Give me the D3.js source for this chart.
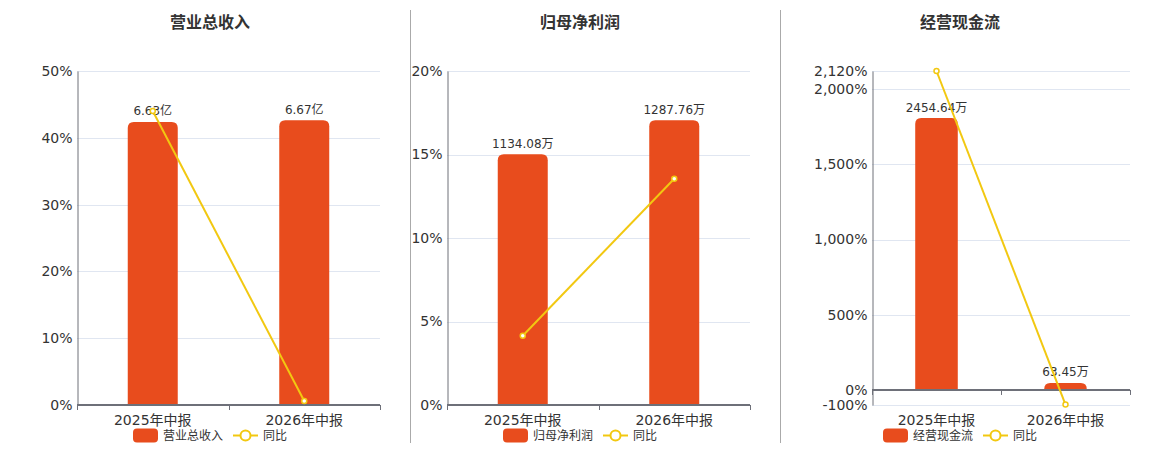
<!DOCTYPE html>
<html>
<head>
<meta charset="utf-8">
<script src="https://cdn.jsdelivr.net/npm/d3@7"></script>
<style>
    body { margin: 0; background: #fff; }
    text { font-family: "DejaVu Sans", "Noto Sans CJK SC", sans-serif; }
</style>
</head>
<body>
<div id="chart"></div>
<script>
const categories = ["2025年中报", "2026年中报"];

const revenueValues = [6.63, 6.67];        // 亿
const revenueYoy = [44.0, 0.6];            // %
const revenueTicks = [0, 10, 20, 30, 40, 50];

const profitValues = [1134.08, 1287.76];   // 万
const profitYoy = [4.15, 13.55];
const profitTicks = [0, 5, 10, 15, 20];

const cashValues = [2454.64, 63.45];       // 万
const cashYoy = [2120, -97.42];
const cashTicks = [-100, 0, 500, 1000, 1500, 2000, 2120];

(function()
{
    const W = 1160;
    const H = 450;
    const PLOT_TOP = 71;
    const PLOT_BOTTOM = 405;
    const BAR_COLOR = "#e84c1d";
    const LINE_COLOR = "#f2c811";
    const AXIS_COLOR = "#6e7079";
    const GRID_COLOR = "#e0e6f1";
    const TEXT_COLOR = "#333";

    var panels = [
        { title: "营业总收入", unit: "亿", values: revenueValues, yoy: revenueYoy,
          ticks: revenueTicks, x0: 77, x1: 380, center: 210 },
        { title: "归母净利润", unit: "万", values: profitValues, yoy: profitYoy,
          ticks: profitTicks, x0: 447, x1: 750, center: 580 },
        { title: "经营现金流", unit: "万", values: cashValues, yoy: cashYoy,
          ticks: cashTicks, x0: 872, x1: 1130, center: 960 }
    ];

    var fmtPct = function(d) {
        return d3.format(",")(d).replace("\u2212", "-") + "%";
    };

    var svg = d3.select("#chart")
        .append("svg")
        .attr("width", W)
        .attr("height", H);

    // separators between the three panels
    [410.5, 780.5].forEach(function(x) {
        svg.append("line")
            .attr("x1", x).attr("x2", x)
            .attr("y1", 10).attr("y2", 443)
            .attr("stroke", "#aaa")
            .attr("stroke-width", 1);
    });

    panels.forEach(drawPanel);

    function topRoundedBar(x, y, w, h, r) {
        r = Math.min(r, h, w / 2);
        return "M" + x + "," + (y + h) +
            "V" + (y + r) +
            "Q" + x + "," + y + " " + (x + r) + "," + y +
            "H" + (x + w - r) +
            "Q" + (x + w) + "," + y + " " + (x + w) + "," + (y + r) +
            "V" + (y + h) + "Z";
    }

    function drawPanel(p) {
        var g = svg.append("g");
        var tmin = p.ticks[0];
        var tmax = p.ticks[p.ticks.length - 1];

        var y = d3.scaleLinear()
            .domain([tmin, tmax])
            .range([PLOT_BOTTOM, PLOT_TOP]);

        // hidden bar axis, zero aligned with the percent axis
        var barTop = d3.max(p.values) * 1.173;
        var yBar = d3.scaleLinear()
            .domain([tmin / tmax * barTop, barTop])
            .range([PLOT_BOTTOM, PLOT_TOP]);

        var x = d3.scaleBand()
            .domain(categories)
            .range([p.x0, p.x1]);
        var barW = x.bandwidth() * 0.33;

        // title
        g.append("text")
            .attr("x", p.center)
            .attr("y", 28)
            .attr("text-anchor", "middle")
            .attr("font-size", 16)
            .attr("font-weight", "bold")
            .attr("fill", TEXT_COLOR)
            .text(p.title);

        // grid
        g.selectAll("line.grid")
            .data(p.ticks.filter(function(t) { return t !== 0; }))
            .enter()
            .append("line")
            .attr("class", "grid")
            .attr("x1", p.x0).attr("x2", p.x1)
            .attr("y1", function(d) { return Math.round(y(d)) + 0.5; })
            .attr("y2", function(d) { return Math.round(y(d)) + 0.5; })
            .attr("stroke", GRID_COLOR);

        // y axis
        var yAxis = d3.axisLeft(y)
            .tickValues(p.ticks)
            .tickSize(0)
            .tickPadding(5)
            .tickFormat(fmtPct);
        var ya = g.append("g")
            .attr("transform", "translate(" + (p.x0 + 0.5) + ",0)")
            .call(yAxis);
        ya.select(".domain").attr("stroke", AXIS_COLOR);
        ya.selectAll("text")
            .attr("font-size", 14)
            .attr("font-family", "DejaVu Sans")
            .attr("fill", TEXT_COLOR);

        // bars
        g.selectAll("path.bar")
            .data(p.values)
            .enter()
            .append("path")
            .attr("class", "bar")
            .attr("fill", BAR_COLOR)
            .attr("d", function(d, i) {
                var top = yBar(d);
                return topRoundedBar(x(categories[i]) + (x.bandwidth() - barW) / 2,
                    top, barW, yBar(0) - top, 6);
            });

        // bar labels
        g.selectAll("text.vlabel")
            .data(p.values)
            .enter()
            .append("text")
            .attr("class", "vlabel")
            .attr("x", function(d, i) { return x(categories[i]) + x.bandwidth() / 2; })
            .attr("y", function(d) { return yBar(d) - 6.5; })
            .attr("text-anchor", "middle")
            .attr("font-size", 12)
            .attr("fill", TEXT_COLOR)
            .text(function(d) { return d.toFixed(2) + p.unit; });

        // x axis at zero
        var y0 = y(0);
        g.append("line")
            .attr("x1", p.x0).attr("x2", p.x1)
            .attr("y1", y0).attr("y2", y0)
            .attr("stroke", AXIS_COLOR)
            .attr("stroke-width", 2);
        var tickXs = categories.map(function(c) { return x(c); }).concat([p.x1]);
        g.selectAll("line.xtick")
            .data(tickXs)
            .enter()
            .append("line")
            .attr("class", "xtick")
            .attr("x1", function(d) { return Math.round(d) + 0.5; })
            .attr("x2", function(d) { return Math.round(d) + 0.5; })
            .attr("y1", y0).attr("y2", y0 + 5)
            .attr("stroke", AXIS_COLOR);
        g.selectAll("text.xlabel")
            .data(categories)
            .enter()
            .append("text")
            .attr("class", "xlabel")
            .attr("x", function(d) { return x(d) + x.bandwidth() / 2; })
            .attr("y", 425)
            .attr("text-anchor", "middle")
            .attr("font-size", 14)
            .attr("fill", TEXT_COLOR)
            .text(function(d) { return d; });

        // yoy line
        var line = d3.line()
            .x(function(d, i) { return x(categories[i]) + x.bandwidth() / 2; })
            .y(function(d) { return y(d); });
        g.append("path")
            .datum(p.yoy)
            .attr("d", line)
            .attr("fill", "none")
            .attr("stroke", LINE_COLOR)
            .attr("stroke-width", 2);
        g.selectAll("circle.pt")
            .data(p.yoy)
            .enter()
            .append("circle")
            .attr("class", "pt")
            .attr("cx", function(d, i) { return x(categories[i]) + x.bandwidth() / 2; })
            .attr("cy", function(d) { return y(d); })
            .attr("r", 2.5)
            .attr("fill", "#fff")
            .attr("stroke", LINE_COLOR)
            .attr("stroke-width", 1.5);

        drawLegend(g, p);
    }

    function drawLegend(g, p) {
        var lg = g.append("g");
        var nameW = p.title.length * 12;
        var total = 25 + 5 + nameW + 10 + 25 + 5 + 24;
        var lx = p.center - total / 2;
        var cy = 435.5;

        lg.append("rect")
            .attr("x", lx).attr("y", cy - 7)
            .attr("width", 25).attr("height", 14)
            .attr("rx", 4)
            .attr("fill", BAR_COLOR);
        lg.append("text")
            .attr("x", lx + 30).attr("y", cy + 4.5)
            .attr("font-size", 12)
            .attr("fill", TEXT_COLOR)
            .text(p.title);

        var lx2 = lx + 30 + nameW + 10;
        lg.append("line")
            .attr("x1", lx2).attr("x2", lx2 + 25)
            .attr("y1", cy).attr("y2", cy)
            .attr("stroke", LINE_COLOR)
            .attr("stroke-width", 2);
        lg.append("circle")
            .attr("cx", lx2 + 12.5).attr("cy", cy)
            .attr("r", 5)
            .attr("fill", "#fff")
            .attr("stroke", LINE_COLOR)
            .attr("stroke-width", 2);
        lg.append("text")
            .attr("x", lx2 + 30).attr("y", cy + 4.5)
            .attr("font-size", 12)
            .attr("fill", TEXT_COLOR)
            .text("同比");
    }
})();
</script>
</body>
</html>
